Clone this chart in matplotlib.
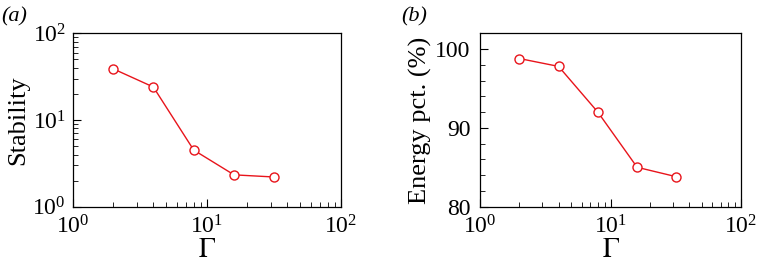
import matplotlib
matplotlib.use('Agg')
import matplotlib.pyplot as plt
import numpy as np
from matplotlib.ticker import LogLocator, MultipleLocator, NullFormatter

# Data
gamma = [2, 4, 8, 16, 32]
stability = [39, 24, 4.5, 2.33, 2.2]
energy_pct = [98.8, 97.8, 92.0, 85.0, 83.8]

plt.rcParams['font.family'] = ['Liberation Serif', 'DejaVu Serif']
plt.rcParams['mathtext.fontset'] = 'stix'

red = '#e8141b'

fig = plt.figure(figsize=(7.63, 2.67), dpi=100)
ax1 = fig.add_axes([72.7 / 763, 1 - 206.7 / 267, 268 / 763, 173.4 / 267])
ax2 = fig.add_axes([480 / 763, 1 - 206.7 / 267, 261 / 763, 173.4 / 267])

for ax in (ax1, ax2):
    ax.set_xscale('log')
    ax.set_xlim(1, 100)
    ax.xaxis.set_major_locator(LogLocator(base=10, numticks=5))
    ax.xaxis.set_minor_locator(LogLocator(base=10, subs=np.arange(2, 10), numticks=20))
    ax.xaxis.set_minor_formatter(NullFormatter())
    ax.tick_params(which='both', direction='in', top=False, right=False,
                   labelsize=17)
    ax.tick_params(axis='x', pad=6)
    ax.tick_params(axis='y', pad=5)
    ax.tick_params(which='major', length=6, width=0.8)
    ax.tick_params(which='minor', length=3.5, width=0.6)
    ax.set_xlabel(r'$\Gamma$', fontsize=20, labelpad=0)
    for s in ax.spines.values():
        s.set_linewidth(0.9)

ax1.plot(gamma, stability, '-o', color=red, lw=1.0, ms=6.5,
         mfc='white', mec=red, mew=1.0)
ax1.set_yscale('log')
ax1.set_ylim(1, 100)
ax1.yaxis.set_major_locator(LogLocator(base=10, numticks=5))
ax1.yaxis.set_minor_locator(LogLocator(base=10, subs=np.arange(2, 10), numticks=20))
ax1.yaxis.set_minor_formatter(NullFormatter())
ax1.set_ylabel('Stability', fontsize=19, labelpad=2)

ax2.plot(gamma, energy_pct, '-o', color=red, lw=1.0, ms=6.5,
         mfc='white', mec=red, mew=1.0)
ax2.set_ylim(80, 102)
ax2.yaxis.set_major_locator(MultipleLocator(10))
ax2.yaxis.set_minor_locator(MultipleLocator(2))
ax2.tick_params(axis='y', pad=7)
ax2.set_ylabel('Energy pct. (%)', fontsize=19, labelpad=2)

fig.text(1 / 763, 1 - 17 / 267, '(a)', fontsize=16, style='italic', va='center')
fig.text(401 / 763, 1 - 17 / 267, '(b)', fontsize=16, style='italic', va='center')

fig.savefig('out.png', dpi=100)
